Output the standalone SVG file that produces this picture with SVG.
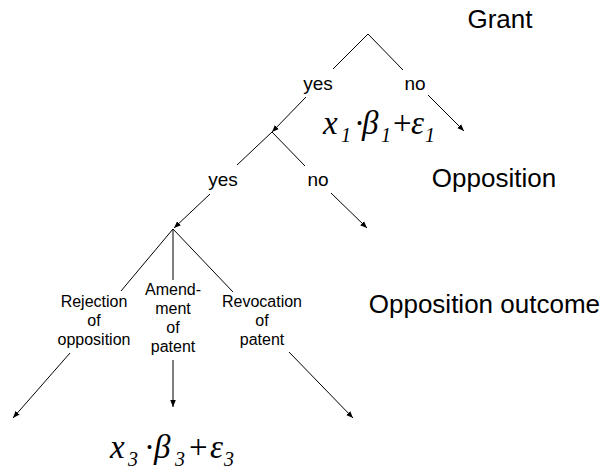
<svg xmlns="http://www.w3.org/2000/svg" width="604" height="474" viewBox="0 0 604 474">
<defs>
<marker id="ah" viewBox="0 0 10 10" refX="10" refY="5" markerWidth="7" markerHeight="7" orient="auto" markerUnits="userSpaceOnUse">
<path d="M0,1 L10,5 L0,9 Z" fill="#000"/>
</marker>
</defs>
<style>
.ln{stroke:#000;stroke-width:1;fill:none}
.ar{stroke:#000;stroke-width:1;fill:none;marker-end:url(#ah)}
.big{font-family:"Liberation Sans",Arial,sans-serif;font-size:26px;fill:#000}
.yn{font-family:"Liberation Sans",Arial,sans-serif;font-size:19px;fill:#000;text-anchor:middle}
.sm{font-family:"Liberation Sans",Arial,sans-serif;font-size:16px;fill:#000;text-anchor:middle}
.eq{font-family:"Liberation Serif","Times New Roman",serif;font-size:33px;fill:#000}
.it{font-style:italic}
.sub{font-style:italic;font-size:20px}
</style>
<rect width="604" height="474" fill="#fff"/>
<g id="levels">
<text class="big" x="500" y="28" text-anchor="middle">Grant</text>
<text class="big" x="494" y="187" text-anchor="middle">Opposition</text>
<text class="big" x="600" y="313" text-anchor="end">Opposition outcome</text>
</g>
<g id="node-grant">
<text class="yn" x="318" y="90">yes</text>
<text class="yn" x="415" y="90">no</text>
</g>
<g id="node-opposition">
<text class="yn" x="223" y="186">yes</text>
<text class="yn" x="318" y="186">no</text>
</g>
<g id="node-outcome">
<text class="sm" x="94" y="307">Rejection</text>
<text class="sm" x="94" y="326">of</text>
<text class="sm" x="94" y="345">opposition</text>
<text class="sm" x="173" y="295">Amend-</text>
<text class="sm" x="173" y="314">ment</text>
<text class="sm" x="173" y="333">of</text>
<text class="sm" x="173" y="352">patent</text>
<text class="sm" x="262" y="307">Revocation</text>
<text class="sm" x="262" y="326">of</text>
<text class="sm" x="262" y="345">patent</text>
</g>
<g id="eq1">
<text class="eq" y="134"><tspan class="it" x="323">x</tspan><tspan class="sub" x="341" y="142">1</tspan><tspan x="354" y="134">·</tspan><tspan class="it" x="362">β</tspan><tspan class="sub" x="381" y="142">1</tspan><tspan x="393" y="134">+</tspan><tspan class="it" x="411">ε</tspan><tspan class="sub" x="425" y="142">1</tspan></text>
</g>
<g id="eq3">
<text class="eq" y="458"><tspan class="it" x="110">x</tspan><tspan class="sub" x="128" y="466">3</tspan><tspan x="144" y="458">·</tspan><tspan class="it" x="154">β</tspan><tspan class="sub" x="175" y="466">3</tspan><tspan x="189" y="458">+</tspan><tspan class="it" x="210">ε</tspan><tspan class="sub" x="224" y="466">3</tspan></text>
</g>
<g id="connectors">
<path class="ln" d="M333,69 L368,34 L403,70"/>
<path class="ar" d="M306,97 L272,132"/>
<path class="ar" d="M428,95 L464,131"/>
<path class="ln" d="M237,165 L272,132 L305,166"/>
<path class="ar" d="M210,194 L174,228"/>
<path class="ar" d="M331,193 L367,228"/>
<path class="ln" d="M121,291 L173,229 L233,292 M173,229 L173,280"/>
<path class="ar" d="M70,353 L13,418"/>
<path class="ar" d="M173,360 L173,407"/>
<path class="ar" d="M289,352 L353,418"/>
</g>
</svg>
